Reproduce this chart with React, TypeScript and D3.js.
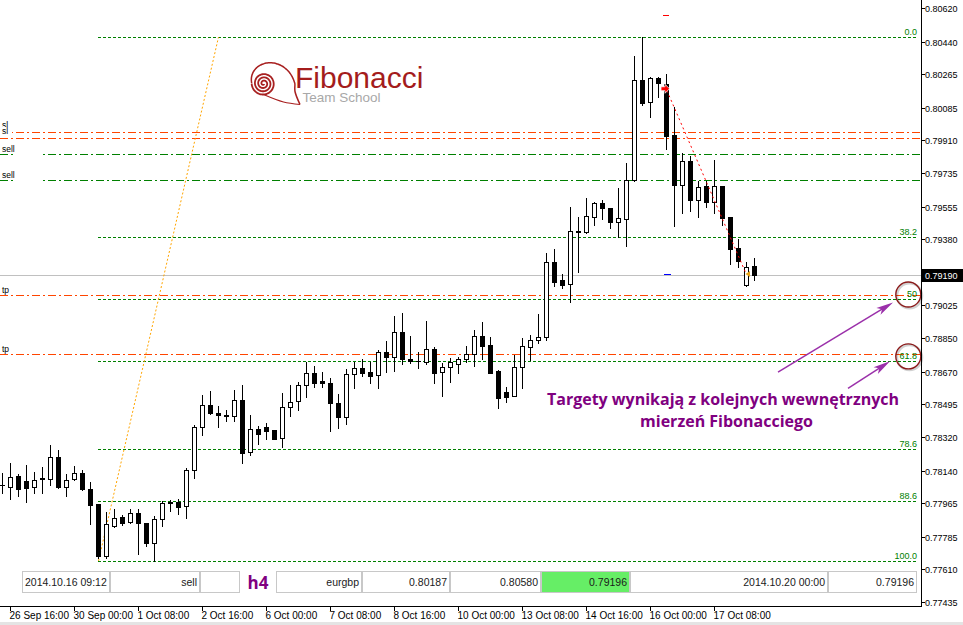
import React from 'react';
import * as d3 from 'd3';

// ---------- DATA ----------
const opens = [
  0.78063, 0.78053, 0.78111, 0.78084, 0.78052, 0.78100, 0.78096, 0.78212, 0.78052, 0.78095,
  0.78127, 0.78041, 0.77961, 0.77683, 0.77844, 0.77892, 0.77864, 0.77912, 0.77859, 0.77753,
  0.77878, 0.77971, 0.77971, 0.77948, 0.78141, 0.78373, 0.78491, 0.78448, 0.78439, 0.78431,
  0.78518, 0.78237, 0.78363, 0.78373, 0.78357, 0.78313, 0.78479, 0.78513, 0.78597, 0.78661,
  0.78620, 0.78608, 0.78500, 0.78429, 0.78656, 0.78688, 0.78667, 0.78651, 0.78774, 0.78747,
  0.78881, 0.78736, 0.78729, 0.78720, 0.78790, 0.78667, 0.78693, 0.78710, 0.78736, 0.78763,
  0.78861, 0.78813, 0.78674, 0.78559, 0.78541, 0.78693, 0.78801, 0.78838, 0.78854, 0.79256,
  0.79162, 0.79139, 0.79423, 0.79417, 0.79501, 0.79573, 0.79546, 0.79474, 0.79490, 0.79698,
  0.80232, 0.80118, 0.80243, 0.80211, 0.79937, 0.79673, 0.79798, 0.79592, 0.79666, 0.79581,
  0.79666, 0.79498, 0.79332, 0.79135, 0.79235,
];
const highs = [
  0.78127, 0.78180, 0.78121, 0.78170, 0.78132, 0.78159, 0.78277, 0.78250, 0.78121, 0.78164,
  0.78143, 0.78078, 0.77961, 0.77918, 0.77934, 0.77902, 0.77934, 0.77935, 0.77859, 0.77896,
  0.77978, 0.77982, 0.77987, 0.78154, 0.78386, 0.78545, 0.78566, 0.78486, 0.78465, 0.78572,
  0.78599, 0.78438, 0.78379, 0.78396, 0.78357, 0.78556, 0.78596, 0.78616, 0.78720, 0.78700,
  0.78670, 0.78634, 0.78549, 0.78683, 0.78722, 0.78736, 0.78723, 0.78786, 0.78836, 0.78969,
  0.78983, 0.78861, 0.78776, 0.78942, 0.78802, 0.78718, 0.78742, 0.78750, 0.78808, 0.78893,
  0.78936, 0.78856, 0.78679, 0.78586, 0.78759, 0.78851, 0.78867, 0.78979, 0.79308, 0.79326,
  0.79192, 0.79553, 0.79499, 0.79601, 0.79581, 0.79591, 0.79546, 0.79653, 0.79787, 0.80363,
  0.80464, 0.80252, 0.80252, 0.80266, 0.80088, 0.79841, 0.79826, 0.79692, 0.79692, 0.79805,
  0.79666, 0.79498, 0.79381, 0.79256, 0.79278,
];
const lows = [
  0.78019, 0.77987, 0.78003, 0.77973, 0.78019, 0.78019, 0.78062, 0.78046, 0.78003, 0.78087,
  0.78036, 0.77853, 0.77670, 0.77673, 0.77837, 0.77848, 0.77859, 0.77692, 0.77737, 0.77655,
  0.77844, 0.77925, 0.77907, 0.77887, 0.78100, 0.78330, 0.78443, 0.78375, 0.78407, 0.78407,
  0.78182, 0.78222, 0.78282, 0.78309, 0.78311, 0.78268, 0.78432, 0.78465, 0.78536, 0.78586,
  0.78589, 0.78354, 0.78366, 0.78388, 0.78581, 0.78647, 0.78611, 0.78581, 0.78670, 0.78675,
  0.78710, 0.78715, 0.78691, 0.78710, 0.78608, 0.78541, 0.78616, 0.78661, 0.78723, 0.78702,
  0.78736, 0.78661, 0.78477, 0.78509, 0.78541, 0.78584, 0.78733, 0.78825, 0.78840, 0.79129,
  0.79120, 0.79044, 0.79206, 0.79412, 0.79456, 0.79489, 0.79442, 0.79391, 0.79346, 0.79692,
  0.80100, 0.80037, 0.80144, 0.79864, 0.79453, 0.79522, 0.79533, 0.79501, 0.79555, 0.79522,
  0.79458, 0.79246, 0.79233, 0.79129, 0.79162,
];
const closes = [
  0.78061, 0.78107, 0.78043, 0.78048, 0.78089, 0.78092, 0.78212, 0.78052, 0.78089, 0.78127,
  0.78041, 0.77955, 0.77683, 0.77853, 0.77885, 0.77860, 0.77912, 0.77859, 0.77753, 0.77880,
  0.77966, 0.77966, 0.77946, 0.78143, 0.78373, 0.78491, 0.78448, 0.78436, 0.78431, 0.78518,
  0.78235, 0.78363, 0.78337, 0.78354, 0.78311, 0.78481, 0.78507, 0.78599, 0.78661, 0.78611,
  0.78608, 0.78500, 0.78425, 0.78658, 0.78688, 0.78661, 0.78648, 0.78774, 0.78747, 0.78881,
  0.78740, 0.78726, 0.78728, 0.78790, 0.78665, 0.78693, 0.78720, 0.78736, 0.78765, 0.78861,
  0.78809, 0.78665, 0.78530, 0.78536, 0.78693, 0.78806, 0.78838, 0.78854, 0.79256, 0.79152,
  0.79135, 0.79423, 0.79420, 0.79503, 0.79573, 0.79546, 0.79474, 0.79492, 0.79696, 0.80232,
  0.80112, 0.80243, 0.80216, 0.79935, 0.79673, 0.79798, 0.79592, 0.79659, 0.79581, 0.79666,
  0.79496, 0.79329, 0.79265, 0.79233, 0.79190,
];

const priceTicks = [
  0.8062, 0.8044, 0.80265, 0.80085, 0.7991, 0.79735, 0.79555, 0.7938, 0.79025,
  0.7885, 0.7867, 0.78495, 0.7832, 0.7814, 0.77965, 0.77785, 0.7761, 0.77435,
];
const timeLabels = [
  '26 Sep 16:00', '30 Sep 00:00', '1 Oct 08:00', '2 Oct 16:00', '6 Oct 00:00', '7 Oct 08:00',
  '8 Oct 16:00', '10 Oct 00:00', '13 Oct 08:00', '14 Oct 16:00', '16 Oct 00:00', '17 Oct 08:00',
];
const timeLabelBars = [1, 9, 17, 25, 33, 41, 49, 57, 65, 73, 81, 89];

const fibLevels = [0, 0.382, 0.5, 0.618, 0.786, 0.886, 1];
const fibLabels = ['0.0', '38.2', '50', '61.8', '78.6', '88.6', '100.0'];
const fibHigh = 0.80464;
const fibLow = 0.77655;
const fibLowBar = 12;
const fibHighBar = 27;

const slLevels = [0.79954, 0.79921];
const sellLevels = [0.79836, 0.79696];
const tpLevels = [0.79081, 0.78763];
const bidPrice = 0.7919;

const tradeOpenBar = 83;
const tradeOpenPrice = 0.80187;
const tradeCloseBar = 93;
const tradeClosePrice = 0.79196;
const tradeSL = 0.8058;
const tradeTP = 0.79196;

const tableTexts = ['2014.10.16 09:12', 'sell', '', 'h4', 'eurgbp', '0.80187', '0.80580', '0.79196', '2014.10.20 00:00', '0.79196'];

const noteLines = ['Targety wynikają z kolejnych wewnętrznych', 'mierzeń Fibonacciego'];
const circledLevels = [0.5, 0.618];

// ---------- LAYOUT ----------
const W = 963;
const H = 625;
const PLOT_R = 921;
const PLOT_B = 606;
const cellEdges = [22, 110, 200, 240, 276, 362, 450, 541, 630, 828, 917];
const cellAlign = ['start', 'end', 'end', 'middle', 'end', 'end', 'end', 'end', 'end', 'end'];

const AX_FONT = "'Liberation Sans', Arial, sans-serif";
const NOTE_FONT = "'Open Sans', 'Noto Sans', sans-serif";
const DASHDOT = '8,3,2,3';

export default function App() {
  const x = d3.scaleLinear().domain([0, 94]).range([2, 754]);
  const y = d3.scaleLinear().domain([0.77435, 0.8062]).range([602, 8]);
  const px = (i: number) => Math.round(x(i));
  const py = (p: number) => Math.round(y(p));

  const fibPrice = (lv: number) => fibHigh - lv * (fibHigh - fibLow);

  // logo spiral
  const lcx = 263.5;
  const lcy = 83.5;
  const spiral: [number, number][] = [];
  for (let t = 0.6; t <= 7 * Math.PI; t += 0.08) {
    const r = 0.4 + 0.52 * t;
    spiral.push([lcx + r * Math.cos(t), lcy + r * Math.sin(t)]);
  }
  const outer: [number, number][] = [];
  for (let t = 7 * Math.PI; t <= 8 * Math.PI + 0.01; t += 0.05) {
    const f = (t - 7 * Math.PI) / Math.PI;
    const r = 11.8 + 19.5 * Math.pow(f, 1.3);
    outer.push([lcx + r * Math.cos(t), lcy + r * Math.sin(t)]);
  }
  const tail: [number, number] = [lcx + 36.5, lcy + 21];
  outer.push([lcx + 31.5, lcy + 8], tail);
  const bottomR = 0.4 + 0.52 * 6.5 * Math.PI;
  const bottomPts: [number, number][] = [
    [lcx, lcy + bottomR],
    [lcx + 20, lcy + 18.5],
    tail,
  ];
  const lineGen = d3.line<[number, number]>().curve(d3.curveBasis);
  const lineGenC = d3.line<[number, number]>().curve(d3.curveCatmullRom);

  const tradeX1 = px(tradeOpenBar);
  const tradeX2 = px(tradeCloseBar);

  const noteColor = '#800080';
  const arrowColor = '#9b30aa';

  const arrowHead = (x1: number, y1: number, x2: number, y2: number) => {
    const a = Math.atan2(y2 - y1, x2 - x1);
    const L = 17;
    const Wd = 4;
    const bx = x2 - L * Math.cos(a);
    const by = y2 - L * Math.sin(a);
    const nx = -Math.sin(a) * Wd;
    const ny = Math.cos(a) * Wd;
    return `${x2},${y2} ${bx + nx},${by + ny} ${bx + L * 0.25 * Math.cos(a)},${by + L * 0.25 * Math.sin(a)} ${bx - nx},${by - ny}`;
  };

  const arrows = [
    { x1: 778, y1: y(fibPrice(0.5)) + 73, x2: 893, y2: y(fibPrice(0.5)) + 3.5 },
    { x1: 848, y1: y(fibPrice(0.618)) + 27.5, x2: 890, y2: y(fibPrice(0.618)) + 0.5 },
  ];

  return (
    <svg
      width={W}
      height={H}
      style={{ position: 'absolute', left: 0, top: 0, background: '#fff' }}
      xmlns="http://www.w3.org/2000/svg"
    >
      <rect x={0} y={0} width={W} height={H} fill="#fff" />

      {/* Logo */}
      <g>
        <path d={lineGen(spiral) || ''} fill="none" stroke="#a82020" strokeWidth={1.8} />
        <path d={lineGenC(outer) || ''} fill="none" stroke="#a82020" strokeWidth={1.5} />
        <path d={lineGenC(bottomPts) || ''} fill="none" stroke="#a82020" strokeWidth={1.2} />
        <text x={295} y={87.5} fontFamily={AX_FONT} fontSize={30} fill="#a41c1c">Fibonacci</text>
        <text x={302.5} y={102.3} fontFamily={AX_FONT} fontSize={13.5} fill="#a8a8a8">Team School</text>
      </g>

      <g shapeRendering="crispEdges">
        {/* bid line */}
        <line x1={0} x2={PLOT_R} y1={py(bidPrice) + 0.5} y2={py(bidPrice) + 0.5} stroke="#c0c0c0" />

        {/* fib levels */}
        {fibLevels.map((lv, k) => {
          const yy = py(fibPrice(lv)) + 0.5;
          return (
            <line key={'fib' + k} x1={px(fibLowBar)} x2={918} y1={yy} y2={yy} stroke="#008000" strokeDasharray="3,2" />
          );
        })}

        {/* sl lines */}
        {slLevels.map((p, k) => (
          <line key={'sl' + k} x1={0} x2={PLOT_R} y1={py(p) + 0.5} y2={py(p) + 0.5} stroke="#ff4500" strokeDasharray={DASHDOT} />
        ))}
        {/* sell lines */}
        {sellLevels.map((p, k) => (
          <g key={'sell' + k}>
            <line x1={0} x2={PLOT_R} y1={py(p) + 0.5} y2={py(p) + 0.5} stroke="#008000" strokeDasharray={DASHDOT} />
            <rect x={13} y={py(p) - 1} width={29} height={3} fill="#fff" />
          </g>
        ))}
        {/* tp lines */}
        {tpLevels.map((p, k) => (
          <line key={'tp' + k} x1={0} x2={PLOT_R} y1={py(p) + 0.5} y2={py(p) + 0.5} stroke="#ff4500" strokeDasharray={DASHDOT} />
        ))}
      </g>

      {/* fib trend line */}
      <line
        x1={px(fibLowBar) + 0.5}
        y1={y(fibLow)}
        x2={px(fibHighBar) + 0.5}
        y2={y(fibHigh)}
        stroke="#ffa500"
        strokeDasharray="2,2"
      />

      {/* fib labels */}
      {fibLevels.map((lv, k) => {
        const yy = py(fibPrice(lv)) + 0.5;
        return (
          <text key={'fl' + k} x={917} y={yy - 2.5} textAnchor="end" fontFamily={AX_FONT} fontSize={9} fill="#008000">
            {fibLabels[k]}
          </text>
        );
      })}

      {/* left labels */}
      <g fontFamily={AX_FONT} fontSize={8.5} fill="#000">
        <text x={2} y={py(slLevels[0]) - 4}>sl</text>
        <rect x={0} y={py(slLevels[0]) - 5} width={12} height={8} fill="#fff" />
        <text x={2} y={py(slLevels[0]) + 2}>sl</text>
        {sellLevels.map((p, k) => (
          <text key={'sl_' + k} x={2} y={py(p) - 2}>sell</text>
        ))}
        {tpLevels.map((p, k) => (
          <text key={'tp_' + k} x={2} y={py(p) - 2}>tp</text>
        ))}
      </g>

      {/* candles */}
      <g shapeRendering="crispEdges">
        {opens.map((o, i) => {
          const c = closes[i];
          const cx = px(i);
          const yH = py(highs[i]);
          const yL = py(lows[i]);
          const yO = py(o);
          const yC = py(c);
          const top = Math.min(yO, yC);
          const bot = Math.max(yO, yC);
          const bull = c > o;
          return (
            <g key={'c' + i}>
              <line x1={cx + 0.5} x2={cx + 0.5} y1={yH} y2={yL + 1} stroke="#000" />
              {bull && bot - top >= 2 ? (
                <rect x={cx - 1.5} y={top + 0.5} width={4} height={bot - top} fill="#fff" stroke="#000" />
              ) : (
                <rect x={cx - 2} y={top} width={5} height={Math.max(1, bot - top + 1)} fill="#000" />
              )}
            </g>
          );
        })}
      </g>

      {/* trade markers */}
      <g shapeRendering="crispEdges">
        <line x1={tradeX1 - 3} x2={tradeX1 + 3} y1={py(tradeSL) + 0.5} y2={py(tradeSL) + 0.5} stroke="#ff0000" />
        <line x1={tradeX1 - 2} x2={tradeX1 + 5} y1={py(tradeTP) + 0.5} y2={py(tradeTP) + 0.5} stroke="#0000ff" strokeWidth={1.5} />
      </g>
      <line
        x1={tradeX1 + 1}
        y1={y(tradeOpenPrice) + 2}
        x2={tradeX2}
        y2={y(tradeClosePrice)}
        stroke="#ff0000"
        strokeDasharray="2,3"
      />
      <polygon
        transform={`translate(${tradeX1 - 1},${y(tradeOpenPrice)})`}
        points="-4,-2 0,-2 0,-4.5 4.5,0 0,4.5 0,2 -4,2"
        fill="#ff0000"
        stroke="#fff"
        strokeWidth={0.8}
      />
      <polygon
        transform={`translate(${tradeX2 + 2},${y(tradeClosePrice) + 0.5})`}
        points="-2.5,0 2,-3 2,3"
        fill="#e8a317"
      />

      {/* annotation */}
      <g fontFamily={NOTE_FONT} fontWeight={700} fontSize={16} fill={noteColor} textAnchor="middle">
        <text x={723} y={405}>{noteLines[0]}</text>
        <text x={726.5} y={427}>{noteLines[1]}</text>
      </g>
      {arrows.map((a, k) => (
        <g key={'ar' + k}>
          <line x1={a.x1} y1={a.y1} x2={a.x2 - 8 * Math.cos(Math.atan2(a.y2 - a.y1, a.x2 - a.x1))} y2={a.y2 - 8 * Math.sin(Math.atan2(a.y2 - a.y1, a.x2 - a.x1))} stroke={arrowColor} strokeWidth={1.5} />
          <polygon points={arrowHead(a.x1, a.y1, a.x2, a.y2)} fill={arrowColor} />
        </g>
      ))}
      {circledLevels.map((lv, k) => {
        const cy = y(fibPrice(lv)) - 4.5;
        return (
          <g key={'ci' + k}>
            <circle cx={909.5} cy={cy + 1.2} r={12.5} fill="none" stroke="#000" strokeOpacity={0.18} strokeWidth={2.5} />
            <circle cx={908.3} cy={cy} r={12.5} fill="none" stroke="#8b1a1a" strokeWidth={1.4} />
          </g>
        );
      })}

      {/* table row */}
      <g fontFamily={AX_FONT} fontSize={10.5} fill="#1a1a1a">
        {tableTexts.map((t, k) => {
          const x0 = cellEdges[k];
          const x1 = cellEdges[k + 1];
          if (k === 3) {
            return (
              <g key={'tb' + k}>
                <rect x={x0} y={571} width={x1 - x0} height={22} fill="#fff" />
                <text x={(x0 + x1) / 2} y={589} textAnchor="middle" fontFamily={NOTE_FONT} fontWeight={700} fontSize={17} fill={noteColor}>
                  {t}
                </text>
              </g>
            );
          }
          const anchor = cellAlign[k];
          const tx = anchor === 'start' ? x0 + 3 : x1 - 3;
          return (
            <g key={'tb' + k}>
              <rect x={x0 + 0.5} y={571.5} width={x1 - x0 - 1} height={21} fill={k === 7 ? '#66ee66' : '#fff'} stroke="#c8c8c8" shapeRendering="crispEdges" />
              <text x={tx} y={586} textAnchor={anchor as any}>{t}</text>
            </g>
          );
        })}
      </g>

      {/* axes */}
      <g shapeRendering="crispEdges">
        <line x1={PLOT_R + 0.5} x2={PLOT_R + 0.5} y1={0} y2={PLOT_B + 1} stroke="#000" />
        <line x1={0} x2={PLOT_R + 1} y1={PLOT_B + 0.5} y2={PLOT_B + 0.5} stroke="#000" />
      </g>
      {priceTicks.map((p, k) => {
        const yy = py(p) + 0.5;
        return (
          <g key={'pt' + k}>
            <line x1={PLOT_R} x2={PLOT_R + 4} y1={yy} y2={yy} stroke="#000" shapeRendering="crispEdges" />
            <text x={925} y={yy + 3.3} fontFamily={AX_FONT} fontSize={9} fill="#000">
              {p.toFixed(5)}
            </text>
          </g>
        );
      })}
      <rect x={PLOT_R + 1} y={py(bidPrice) - 6} width={W - PLOT_R - 1} height={13} fill="#000" />
      <text x={925} y={py(bidPrice) + 3.8} fontFamily={AX_FONT} fontSize={9} fill="#fff">
        {bidPrice.toFixed(5)}
      </text>
      {timeLabelBars.map((b, k) => {
        const xx = px(b) + 0.5;
        return (
          <g key={'tl' + k}>
            <line x1={xx} x2={xx} y1={PLOT_B} y2={PLOT_B + 5} stroke="#000" shapeRendering="crispEdges" />
            <text x={xx - 1} y={619} fontFamily={AX_FONT} fontSize={10} fill="#000">
              {timeLabels[k]}
            </text>
          </g>
        );
      })}
      <rect x={0} y={622} width={W} height={3} fill="#e4e4e4" />
    </svg>
  );
}
